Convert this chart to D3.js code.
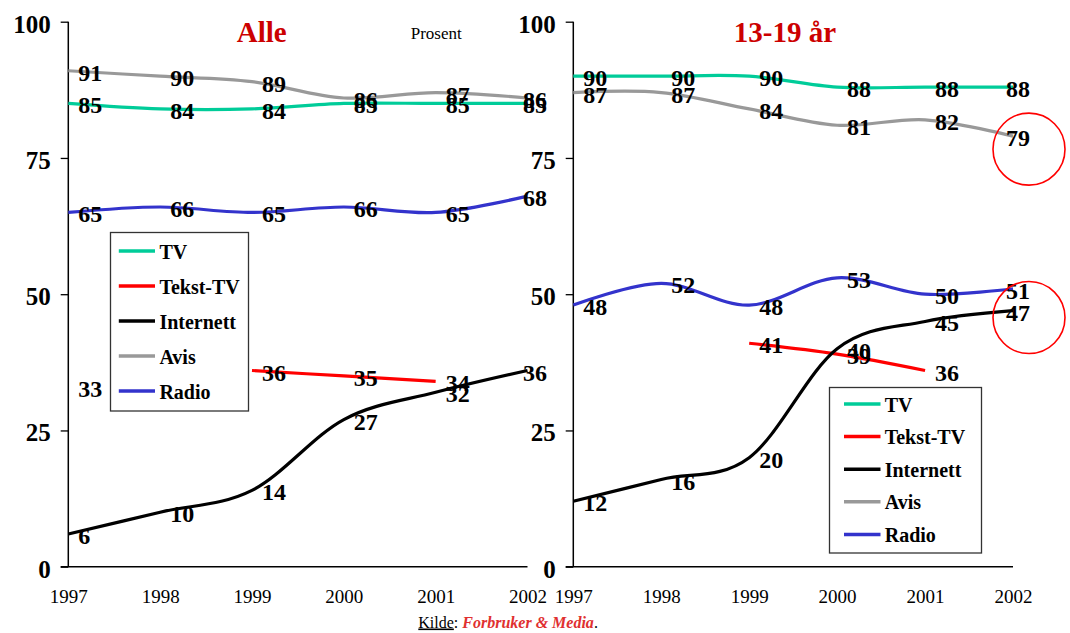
<!DOCTYPE html>
<html>
<head>
<meta charset="utf-8">
<script src="https://cdn.jsdelivr.net/npm/d3@7"></script>
<style>
  html, body { margin: 0; padding: 0; background: #fff; }
  svg { display: block; }
  text { font-family: "Liberation Serif", "Times New Roman", Times, serif; }
</style>
</head>
<body>
<svg id="chart" width="1070" height="633"></svg>
<script>
// ---------- DATA ----------
const years = ["1997", "1998", "1999", "2000", "2001", "2002"];
const seriesNames = ["TV", "Tekst-TV", "Internett", "Avis", "Radio"];
const yTickValues = [0, 25, 50, 75, 100];

// Panel "Alle"
const alleTV        = [85, 84, 84, 85, 85, 85];
const alleTekstTV   = [33, null, 36, 35, 34, null];
const alleInternett = [6, 10, 14, 27, 32, 36];
const alleAvis      = [91, 90, 89, 86, 87, 86];
const alleRadio     = [65, 66, 65, 66, 65, 68];

// Panel "13-19 år"
const ungTV        = [90, 90, 90, 88, 88, 88];
const ungTekstTV   = [null, null, 41, 39, 36, null];
const ungInternett = [12, 16, 20, 40, 45, 47];
const ungAvis      = [87, 87, 84, 81, 82, 79];
const ungRadio     = [48, 52, 48, 53, 50, 51];

// Highlighted values (red circles) in "13-19 år"
const highlightYear = "2002";
const highlightValues = [79, 47];

const titles = ["Alle", "13-19 år"];
const unitLabel = "Prosent";

// ---------- STYLES ----------
const seriesColors = ["#00cc99", "#ff0000", "#000000", "#999999", "#3333cc"];
const serif = '"Liberation Serif", "Times New Roman", Times, serif';

const svg = d3.select("#chart");

const y = d3.scaleLinear().domain([0, 100]).range([566.7, 21.7]);

const panels = [
  {
    title: titles[0], titleX: 261.7,
    x0: 68.3, x1: 527.5, labelLimit: 547,
    data: [alleTV, alleTekstTV, alleInternett, alleAvis, alleRadio],
    legend: { x: 110.5, y: 232.5, w: 138, h: 178.5, first: 251, step: 35, sw0: 118.8, sw1: 155, tx: 159.4 },
    unit: true
  },
  {
    title: titles[1], titleX: 785,
    x0: 573.3, x1: 1013, labelLimit: 1030,
    data: [ungTV, ungTekstTV, ungInternett, ungAvis, ungRadio],
    legend: { x: 829.5, y: 387.5, w: 152, h: 165.5, first: 404, step: 32.6, sw0: 844, sw1: 880.5, tx: 884.7 },
    highlight: true
  }
];

panels.forEach(p => {
  const x = d3.scalePoint().domain(years).range([p.x0, p.x1]);
  const g = svg.append("g");

  // Y axis
  const yAxis = d3.axisLeft(y).tickValues(yTickValues).tickSize(7.6).tickPadding(10).tickFormat(d3.format("d"));
  const ya = g.append("g").attr("transform", `translate(${p.x0},0)`).call(yAxis);
  ya.select(".domain").attr("d", `M0,${y(100)}V${y(0)}`).attr("stroke", "#000").attr("stroke-width", 1.5);
  ya.selectAll(".tick line").attr("stroke", "#000").attr("stroke-width", 1.3);
  ya.selectAll(".tick text")
    .attr("font-family", serif).attr("font-size", 25).attr("font-weight", "bold")
    .attr("fill", "#000").attr("dy", "0.42em");

  // X axis
  const xAxis = d3.axisBottom(x).tickSize(0).tickPadding(0);
  const xa = g.append("g").attr("transform", `translate(0,${y(0)})`).call(xAxis);
  xa.select(".domain").attr("d", `M${p.x0 - 7.6},0H${p.x1}`).attr("stroke", "#000").attr("stroke-width", 1.5);
  xa.selectAll(".tick text")
    .attr("font-family", serif).attr("font-size", 19).attr("fill", "#000")
    .attr("y", 36).attr("dy", 0);

  // Title
  g.append("text").attr("x", p.titleX).attr("y", 41.7).attr("text-anchor", "middle")
    .attr("font-family", serif).attr("font-size", 29).attr("font-weight", "bold")
    .attr("fill", "#cc0000").text(p.title);

  if (p.unit) {
    g.append("text").attr("x", 410.7).attr("y", 39).attr("font-family", serif)
      .attr("font-size", 17).attr("fill", "#000").text(unitLabel);
  }

  // Lines
  const line = d3.line()
    .defined(d => d.v != null)
    .x(d => x(d.year)).y(d => y(d.v))
    .curve(d3.curveCardinal.tension(0));

  p.data.forEach((vals, i) => {
    const pts = years.map((yr, j) => ({ year: yr, v: vals[j] }));
    g.append("path").datum(pts).attr("d", line)
      .attr("fill", "none").attr("stroke", seriesColors[i])
      .attr("stroke-width", 3.2).attr("stroke-linejoin", "round");
  });

  // Data labels
  p.data.forEach((vals) => {
    years.forEach((yr, j) => {
      const v = vals[j];
      if (v == null) return;
      const t = g.append("text")
        .attr("font-family", serif).attr("font-size", 24).attr("font-weight", "bold")
        .attr("fill", "#000").attr("y", y(v) + 10).text(v);
      const w = t.node().getComputedTextLength();
      t.attr("x", Math.min(x(yr) + 10, p.labelLimit - w));
    });
  });

  // Legend
  const L = p.legend;
  const lg = g.append("g");
  lg.append("rect").attr("x", L.x).attr("y", L.y).attr("width", L.w).attr("height", L.h)
    .attr("fill", "#fff").attr("stroke", "#333").attr("stroke-width", 1.3);
  seriesNames.forEach((name, i) => {
    const ly = L.first + i * L.step;
    lg.append("line").attr("x1", L.sw0).attr("x2", L.sw1).attr("y1", ly).attr("y2", ly)
      .attr("stroke", seriesColors[i]).attr("stroke-width", 3.5);
    lg.append("text").attr("x", L.tx).attr("y", ly + 7.5)
      .attr("font-family", serif).attr("font-size", 20).attr("font-weight", "bold")
      .attr("fill", "#000").text(name);
  });

  // Highlight circles
  if (p.highlight) {
    const offs = [[16, 13], [16, 7]];
    highlightValues.forEach((v, i) => {
      g.append("circle").attr("cx", x(highlightYear) + offs[i][0]).attr("cy", y(v) + offs[i][1])
        .attr("r", 36).attr("fill", "none").attr("stroke", "#ff0000").attr("stroke-width", 1.6);
    });
  }
});

// Source line
const src = svg.append("text").attr("x", 418.3).attr("y", 627.5)
  .attr("font-family", serif).attr("font-size", 16).attr("fill", "#000");
src.append("tspan").attr("text-decoration", "underline").text("Kilde");
src.append("tspan").text(": ");
src.append("tspan").attr("font-weight", "bold").attr("font-style", "italic").attr("fill", "#e03030").text("Forbruker & Media");
src.append("tspan").text(".");
</script>
</body>
</html>
